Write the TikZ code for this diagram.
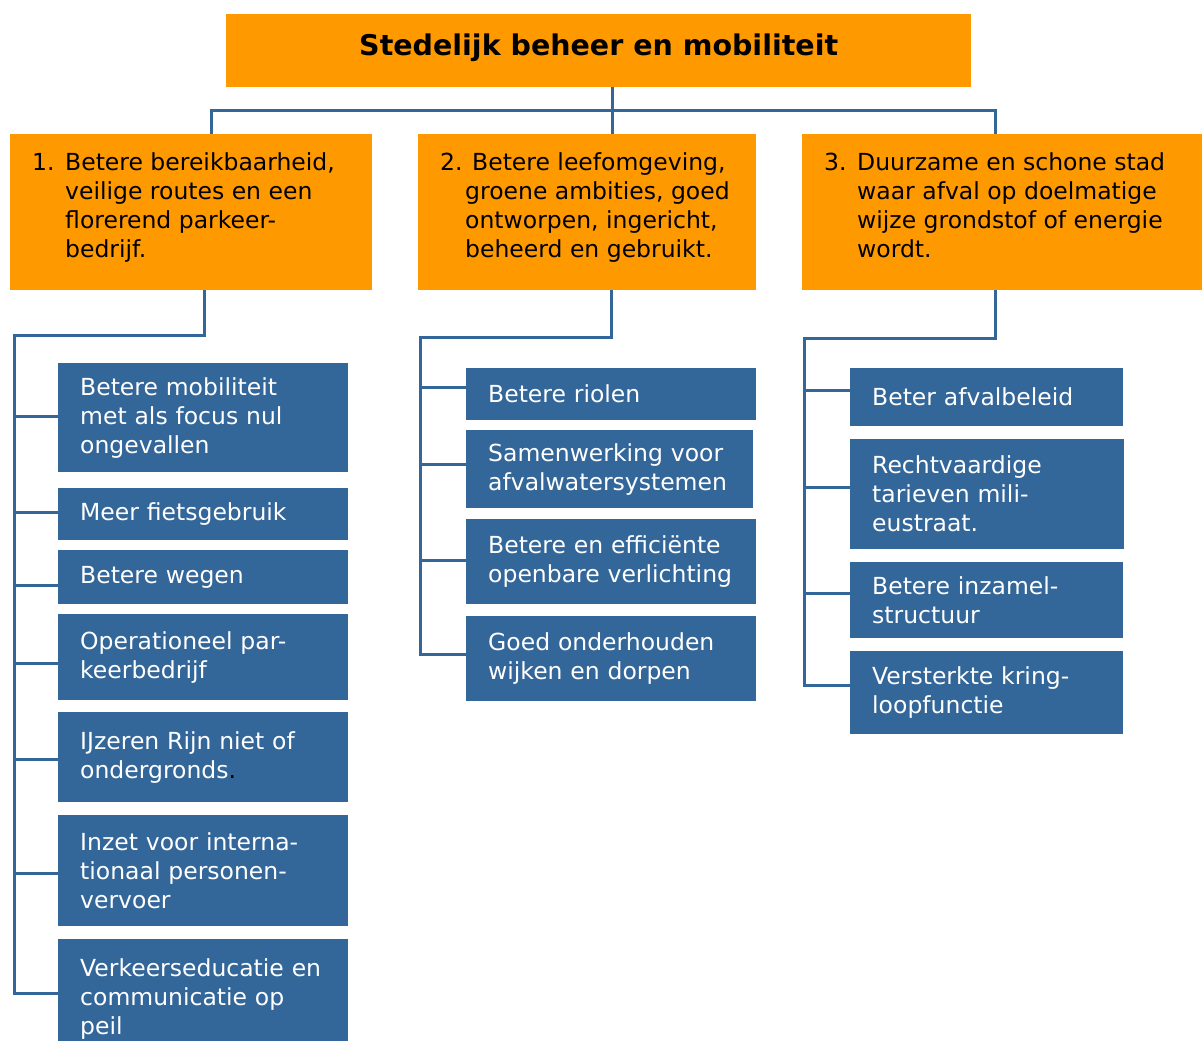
\documentclass[tikz,border=0pt]{standalone}
\usepackage{fontspec}
\setmainfont{DejaVu Sans}
\usetikzlibrary{calc}
\definecolor{oranje}{RGB}{255,153,0}
\definecolor{blauw}{RGB}{51,102,153}
% top-aligned text block inside an orange theme box
\newcommand{\themetext}[2]{\parbox[c][156pt][t]{#1}{\vspace*{18pt}\raggedright\leftskip=22pt #2}}
\begin{document}
\begin{tikzpicture}[x=1pt,y=-1pt,
  conn/.style={draw=blauw,line width=3pt},
  headbox/.style={fill=oranje,anchor=north west,inner sep=0pt,
    font=\fontsize{23.5}{29}\selectfont},
  leaf/.style={fill=blauw,text=white,anchor=north west,inner xsep=22pt,
    inner ysep=0pt,align=left,font=\fontsize{23.5}{29}\selectfont},
]
\useasboundingbox (0,0) rectangle (1202,1041);

% title
\node[headbox,minimum width=745pt,minimum height=73pt,text height=17pt,text depth=8pt,
  font=\bfseries\fontsize{28.5}{29}\selectfont] (top) at (226,14)
  {Stedelijk beheer en mobiliteit};

% themes
\node[headbox,minimum width=362pt,minimum height=156pt] (b1) at (10,134)
  {\themetext{362pt}{\makebox[33pt][l]{1.}Betere bereikbaarheid,\\
   \hspace*{33pt}veilige routes en een\\
   \hspace*{33pt}florerend parkeer-\\
   \hspace*{33pt}bedrijf.}};
\node[headbox,minimum width=338pt,minimum height=156pt] (b2) at (418,134)
  {\themetext{338pt}{\makebox[32pt][l]{2.}Betere leefomgeving,\\
   \hspace*{25pt}groene ambities, goed\\
   \hspace*{25pt}ontworpen, ingericht,\\
   \hspace*{25pt}beheerd en gebruikt.}};
\node[headbox,minimum width=400pt,minimum height=156pt] (b3) at (802,134)
  {\themetext{400pt}{\makebox[33pt][l]{3.}Duurzame en schone stad\\
   \hspace*{33pt}waar afval op doelmatige\\
   \hspace*{33pt}wijze grondstof of energie\\
   \hspace*{33pt}wordt.}};

% column 1
\node[leaf,minimum width=290pt,text width=246pt,minimum height=109pt] (c1) at (58,363)
  {Betere mobiliteit\\met als focus nul\\ongevallen};
\node[leaf,minimum width=290pt,text width=246pt,minimum height=52pt] (c2) at (58,488)
  {Meer fietsgebruik};
\node[leaf,minimum width=290pt,text width=246pt,minimum height=54pt] (c3) at (58,550)
  {Betere wegen};
\node[leaf,minimum width=290pt,text width=246pt,minimum height=86pt] (c4) at (58,614)
  {Operationeel par-\\keerbedrijf};
\node[leaf,minimum width=290pt,text width=246pt,minimum height=90pt] (c5) at (58,712)
  {IJzeren Rijn niet of\\ondergronds\textcolor{black}{.}};
\node[leaf,minimum width=290pt,text width=246pt,minimum height=111pt] (c6) at (58,815)
  {Inzet voor interna-\\tionaal personen-\\vervoer};
\node[leaf,minimum width=290pt,text width=246pt,minimum height=120pt] (c7) at (58,939)
  {Verkeerseducatie~en\\communicatie op\\peil};

% column 2
\node[leaf,minimum width=290pt,text width=246pt,minimum height=52pt] (d1) at (466,368)
  {Betere riolen};
\node[leaf,minimum width=287pt,text width=243pt,minimum height=78pt] (d2) at (466,430)
  {Samenwerking~voor\\afvalwatersystemen};
\node[leaf,minimum width=290pt,text width=246pt,minimum height=85pt] (d3) at (466,519)
  {Betere en efficiënte\\openbare~verlichting};
\node[leaf,minimum width=290pt,text width=246pt,minimum height=85pt] (d4) at (466,616)
  {Goed onderhouden\\wijken en dorpen};

% column 3
\node[leaf,minimum width=273pt,text width=229pt,minimum height=58pt] (e1) at (850,368)
  {Beter afvalbeleid};
\node[leaf,minimum width=274pt,text width=230pt,minimum height=110pt] (e2) at (850,439)
  {Rechtvaardige\\tarieven mili-\\eustraat.};
\node[leaf,minimum width=273pt,text width=229pt,minimum height=76pt] (e3) at (850,562)
  {Betere inzamel-\\structuur};
\node[leaf,minimum width=273pt,text width=229pt,minimum height=83pt] (e4) at (850,651)
  {Versterkte kring-\\loopfunctie};

% title to themes
\coordinate (hub) at (612,110);
\coordinate (busL) at (211,110);
\coordinate (busR) at (995,110);
\draw[conn] (top.south -| hub) -- (b2.north -| hub);
\draw[conn] (b1.north -| busL) |- (busR) -- (b3.north -| busR);

% theme 1 spine and branches
\coordinate (t1) at (204,335);
\coordinate (sp1) at (14,335);
\draw[conn] (b1.south -| t1) -- (t1) -- (sp1) |- ($(c7.west)+(0,-6)$);
\draw[conn] ($(c1.west)+(0,-1.5)$) coordinate (j1) -- (j1 -| sp1);
\draw[conn] ($(c2.west)+(0,-2)$) coordinate (j2) -- (j2 -| sp1);
\draw[conn] ($(c3.west)+(0,8)$) coordinate (j3) -- (j3 -| sp1);
\draw[conn] ($(c4.west)+(0,6)$) coordinate (j4) -- (j4 -| sp1);
\draw[conn] ($(c5.west)+(0,2)$) coordinate (j5) -- (j5 -| sp1);
\draw[conn] ($(c6.west)+(0,2.5)$) coordinate (j6) -- (j6 -| sp1);

% theme 2 spine and branches
\coordinate (t2) at (611,337);
\coordinate (sp2) at (420,337);
\draw[conn] (b2.south -| t2) -- (t2) -- (sp2) |- ($(d4.west)+(0,-4.5)$);
\draw[conn] ($(d1.west)+(0,-7)$) coordinate (k1) -- (k1 -| sp2);
\draw[conn] ($(d2.west)+(0,-5)$) coordinate (k2) -- (k2 -| sp2);
\draw[conn] ($(d3.west)+(0,-1.5)$) coordinate (k3) -- (k3 -| sp2);

% theme 3 spine and branches
\coordinate (t3) at (995,338);
\coordinate (sp3) at (804,338);
\draw[conn] (b3.south -| t3) -- (t3) -- (sp3) |- ($(e4.west)+(0,-7.5)$);
\draw[conn] ($(e1.west)+(0,-7)$) coordinate (m1) -- (m1 -| sp3);
\draw[conn] ($(e2.west)+(0,-7)$) coordinate (m2) -- (m2 -| sp3);
\draw[conn] ($(e3.west)+(0,-7)$) coordinate (m3) -- (m3 -| sp3);
\end{tikzpicture}
\end{document}
